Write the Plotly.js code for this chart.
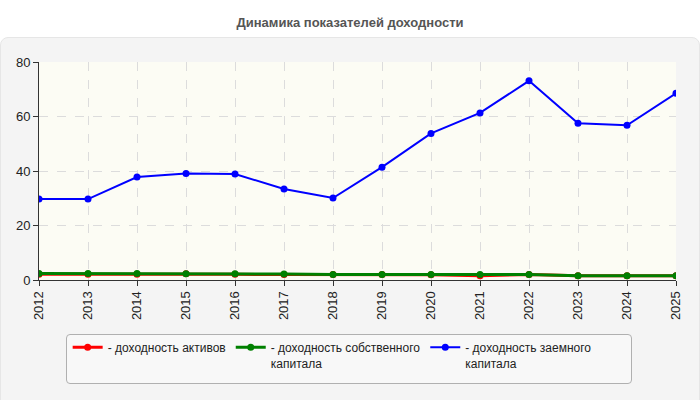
<!DOCTYPE html>
<html>
<head>
<meta charset="utf-8">
<script src="https://cdn.plot.ly/plotly-3.0.1.min.js"></script>
<style>
  body { margin: 0; background: #fff; }
  #panel {
    position: absolute; left: 0; top: 37px; width: 698px; height: 370px;
    background: #f4f4f4; border: 1px solid #e6e6e6; border-radius: 8px;
  }
  #legendbox {
    position: absolute; left: 66px; top: 334px; width: 564px; height: 48px;
    background: #f8f8f8; border: 1px solid #b0b0b0; border-radius: 4px;
  }
  #chart { position: absolute; left: 0; top: 0; width: 700px; height: 400px; }
</style>
</head>
<body>
<div id="panel"></div>
<div id="legendbox"></div>
<div id="chart"></div>
<script>
const years = ['2012','2013','2014','2015','2016','2017','2018','2019','2020','2021','2022','2023','2024','2025'];
const assets = [2.1, 2.1, 2.1, 2.3, 2.1, 2.0, 2.0, 2.0, 1.9, 1.6, 2.0, 1.6, 1.6, 1.6];
const equity = [2.4, 2.4, 2.4, 2.3, 2.3, 2.2, 2.0, 2.0, 2.0, 2.0, 2.0, 1.6, 1.6, 1.6];
const borrowed = [29.7, 29.7, 37.8, 39.1, 38.9, 33.4, 30.1, 41.4, 53.8, 61.3, 73.1, 57.5, 56.8, 68.5];

const names = ['- доходность активов', '- доходность собственного<br>капитала', '- доходность заемного<br>капитала'];
const colors = ['#ff0000', '#008000', '#0000ff'];

// Lines
const traces = [assets, equity, borrowed].map((vals, i) => ({
  x: years,
  y: vals,
  name: names[i],
  type: 'scatter',
  mode: 'lines+markers',
  line: { color: colors[i], width: i === 2 ? 2 : 3 },
  marker: { color: colors[i], size: 7 }
}));

Plotly.newPlot('chart', traces, {
  width: 700,
  height: 400,
  paper_bgcolor: 'rgba(0,0,0,0)',
  plot_bgcolor: '#fcfcf4',
  font: { family: 'Liberation Sans, Arial, sans-serif', color: '#222', size: 12 },
  title: { text: '<b>Динамика показателей доходности</b>', font: { size: 13, color: '#555' }, x: 0.5, y: 0.945, yanchor: 'middle' },
  margin: { l: 39, r: 24, t: 62, b: 120, autoexpand: false },
  showlegend: true,
  xaxis: {
    type: 'category',
    range: [0, years.length - 1],
    tickangle: -90,
    ticks: 'outside', ticklen: 5, tickcolor: '#333',
    showline: true, linecolor: '#333', linewidth: 1,
    showgrid: true, gridcolor: '#dcdcdc', griddash: 'dash',
    tickfont: { size: 13 },
    automargin: false
  },
  yaxis: {
    range: [0, 80],
    tickvals: [0, 20, 40, 60, 80],
    ticks: 'outside', ticklen: 5, tickcolor: '#333',
    showline: true, linecolor: '#333', linewidth: 1,
    showgrid: true, gridcolor: '#dcdcdc', griddash: 'dash',
    zeroline: false,
    tickfont: { size: 13 },
    automargin: false
  },
  legend: {
    orientation: 'h',
    x: 0.045, xanchor: 'left',
    y: -0.243, yanchor: 'top',
    bgcolor: 'rgba(0,0,0,0)',
    borderwidth: 0,
    entrywidth: 0,
    valign: 'top',
    font: { size: 12, color: '#222' },
    itemwidth: 30
  }
}, { displayModeBar: false });
</script>
</body>
</html>
